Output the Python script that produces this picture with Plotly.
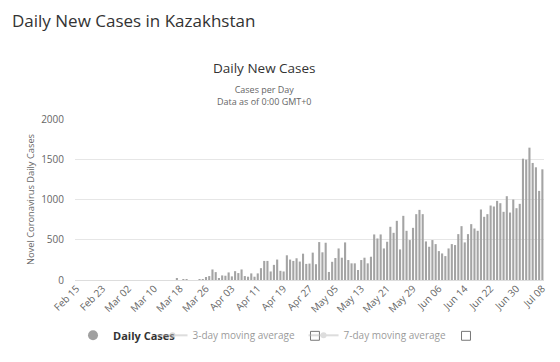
import pandas as pd
import plotly.graph_objects as go

# ---- data ----
start_date = "2020-02-15"
dates = pd.date_range(start_date, periods=145, freq="D")

early_cases = [0] * 31 + [20, 0, 3, 3, 0, 0, 0, 4, 5]
spring_cases = [37, 49, 131, 98, 16, 57, 53, 94, 45, 110,
                86, 131, 49, 41, 82, 41, 82, 147, 237, 237,
                106, 188, 254, 114, 106, 307, 254, 237, 270, 229,
                327, 200, 204, 340, 196, 471, 344, 463, 100, 226,
                273]
summer_cases = [392, 277, 467, 248, 207, 207, 124, 248, 277, 207,
                289, 566, 516, 566, 392, 475, 661, 586, 735, 380,
                797, 611, 496, 648, 818, 871, 818, 479, 413, 496,
                446, 359, 330, 297, 392, 446, 434, 570, 669, 467,
                570, 694, 640, 611, 876, 785, 818, 925, 913, 983,
                954, 847, 1041, 838, 1000, 892, 946, 1507, 1495, 1644,
                1454, 1400, 1107, 1375]
daily_cases = early_cases + spring_cases + summer_cases
assert len(daily_cases) == len(dates)

y_ticks = [0, 500, 1000, 1500, 2000]
x_tick_dates = dates[::8]

# ---- layout constants (pixels); page body adds an 8px offset ----
OFF = 8
W, H = 560 - OFF, 362 - OFF
L, R, T, B = 75 - OFF, 13, 119 - OFF, 80
PW = W - L - R
PH = H - T - B


def px_x(x):
    return (x - OFF - L) / PW


def px_y(y):
    return (H - B - (y - OFF)) / PH


BAR = "#a4a4a4"
TXT = "#666666"
FONT = "Open Sans"

fig = go.Figure()
fig.add_trace(go.Bar(
    x=dates, y=daily_cases, marker=dict(color=BAR, line=dict(width=0)),
    showlegend=False, name="Daily Cases",
))
# legend entries
fig.add_trace(go.Scatter(
    x=[None], y=[None], mode="markers", name="<b>Daily Cases</b>",
    marker=dict(color="#a0a0a0", size=10, symbol="circle"), legend="legend",
))
fig.add_trace(go.Scatter(
    x=[None], y=[None], mode="lines+markers", name="3-day moving average",
    marker=dict(color="#bbbbbb", size=6), line=dict(color="#bbbbbb", width=2),
    visible="legendonly", legend="legend2",
))
fig.add_trace(go.Scatter(
    x=[None], y=[None], mode="lines+markers", name="7-day moving average",
    marker=dict(color="#bbbbbb", size=6), line=dict(color="#bbbbbb", width=2),
    visible="legendonly", legend="legend3",
))

leg_common = dict(orientation="h", xanchor="left", yanchor="middle",
                  bgcolor="rgba(0,0,0,0)", itemclick=False, itemdoubleclick=False)

fig.update_layout(
    width=W, height=H, autosize=False,
    margin=dict(l=L, r=R, t=T, b=B, pad=0),
    paper_bgcolor="white", plot_bgcolor="white",
    font=dict(family=FONT, color=TXT, size=10),
    bargap=0.35,
    title=dict(text="Daily New Cases in Kazakhstan", x=(12 - OFF) / W, xref="container",
               xanchor="left", y=1 - (21 - OFF) / H, yref="container", yanchor="middle",
               font=dict(size=17, color="#333333", family=FONT)),
    xaxis=dict(
        type="date",
        range=[dates[0] - pd.Timedelta(hours=12), dates[-1] + pd.Timedelta(hours=12)],
        tickvals=x_tick_dates, tickformat="%b %d", tickangle=-45,
        showgrid=False, showline=False, ticks="",
        tickfont=dict(size=10, color=TXT), fixedrange=True,
    ),
    yaxis=dict(
        range=[0, 2000], tickvals=y_ticks, showgrid=True, gridcolor="#e6e6e6",
        gridwidth=1, zeroline=True, zerolinecolor="#dddddd", zerolinewidth=1,
        tickfont=dict(size=10, color=TXT), ticklabelstandoff=10,
        title=dict(text="Novel Coronavirus Daily Cases", standoff=4,
                   font=dict(size=9.3, color=TXT)),
        fixedrange=True,
    ),
    legend=dict(x=px_x(73), y=px_y(338), font=dict(size=11, color="#333333"), **leg_common),
    legend2=dict(x=px_x(153), y=px_y(338), font=dict(size=10, color="#333333"), **leg_common),
    legend3=dict(x=px_x(305), y=px_y(338), font=dict(size=10, color="#333333"), **leg_common),
    annotations=[
        dict(text="Daily New Cases", x=px_x(266), y=px_y(67), xref="paper", yref="paper",
             showarrow=False, xanchor="center", yanchor="middle",
             font=dict(size=13.5, color="#333333")),
        dict(text="Cases per Day<br>Data as of 0:00 GMT+0", x=px_x(266), y=px_y(95),
             xref="paper", yref="paper", showarrow=False, xanchor="center",
             yanchor="middle", align="center", font=dict(size=9, color=TXT)),
    ],
    shapes=[
        dict(type="rect", xref="paper", yref="paper",
             x0=px_x(312), x1=px_x(321), y0=px_y(343), y1=px_y(334),
             line=dict(color="#777777", width=1), fillcolor="white"),
        dict(type="rect", xref="paper", yref="paper",
             x0=px_x(464), x1=px_x(473), y0=px_y(343), y1=px_y(334),
             line=dict(color="#777777", width=1), fillcolor="white"),
    ],
)

fig.write_html("out.html", config={"displayModeBar": False})
